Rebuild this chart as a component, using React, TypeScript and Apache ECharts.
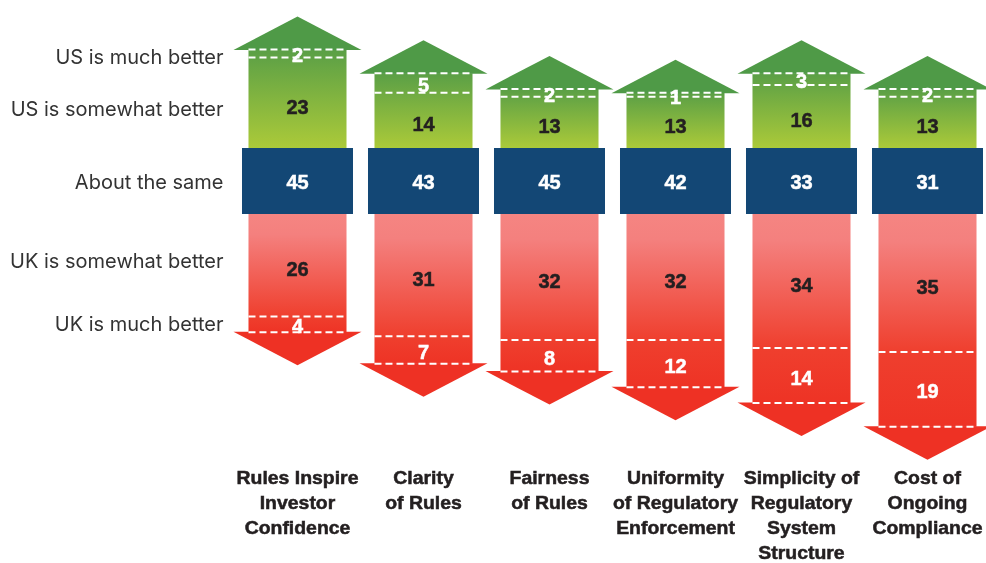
import React, { useEffect, useRef } from "react";
import * as echarts from "echarts";

const categories = [
  "Rules Inspire\nInvestor\nConfidence",
  "Clarity\nof Rules",
  "Fairness\nof Rules",
  "Uniformity\nof Regulatory\nEnforcement",
  "Simplicity of\nRegulatory\nSystem\nStructure",
  "Cost of\nOngoing\nCompliance",
];
const usMuchBetter = [2, 5, 2, 1, 3, 2];
const usSomewhatBetter = [23, 14, 13, 13, 16, 13];
const aboutTheSame = [45, 43, 45, 42, 33, 31];
const ukSomewhatBetter = [26, 31, 32, 32, 34, 35];
const ukMuchBetter = [4, 7, 8, 12, 14, 19];
const rowLabels = [
  "US is much better",
  "US is somewhat better",
  "About the same",
  "UK is somewhat better",
  "UK is much better",
];

const PX = 3.94;
const UP_MAX = 36;
const DOWN_MAX = 63;
const GREEN_TOP = 148;
const RED_TOP = 214;
const BLUE_H = 66;
const HEAD_H = 33;
const NUM_FONT = 'bold 20px "Liberation Sans", Arial, sans-serif';
const ROW_FONT = '20px Inter, "Noto Sans", sans-serif';
const CAT_FONT = 'bold 18px "Liberation Sans", Arial, sans-serif';
const DASH = { stroke: "#ffffff", lineWidth: 2, lineDash: [7, 4] };

function dashLine(x0: number, x1: number, y: number) {
  return { type: "line", shape: { x1: x0, y1: y, x2: x1, y2: y }, style: DASH, z2: 5 };
}
function txt(x: number, y: number, text: string, fill: string, font = NUM_FONT, align = "center") {
  const heavy = font === NUM_FONT;
  return {
    type: "text",
    x,
    y,
    z2: 10,
    style: {
      text,
      fill,
      font,
      align,
      verticalAlign: "middle",
      ...(heavy ? { stroke: fill, lineWidth: 0.5 } : {}),
    },
  };
}

export default function App() {
  const ref = useRef<HTMLDivElement>(null);
  useEffect(() => {
    if (!ref.current) return;
    const chart = echarts.init(ref.current, undefined, { renderer: "svg" });

    const greenItem = (params: any, api: any) => {
      const i = api.value(0);
      const some = api.value(1);
      const much = api.value(2);
      const band = api.size([1, 0])[0];
      const [cx, base] = api.coord([i, 0]);
      const y1 = api.coord([i, some])[1];
      const y2 = api.coord([i, some + much])[1];
      const sw = band * 0.778;
      const hw = band * 1.016;
      const children: any[] = [
        {
          type: "rect",
          shape: { x: cx - sw / 2, y: y2, width: sw, height: base - y2 },
          style: {
            fill: new echarts.graphic.LinearGradient(0, 0, 0, 1, [
              { offset: 0, color: "#5a9f46" },
              { offset: 1, color: "#abca39" },
            ]),
          },
        },
        {
          type: "polygon",
          shape: { points: [[cx - hw / 2, y2 + 0.5], [cx, y2 - HEAD_H], [cx + hw / 2, y2 + 0.5]] },
          style: { fill: "#4f9a47" },
        },
        dashLine(cx - sw / 2, cx + sw / 2, y1),
        dashLine(cx - sw / 2, cx + sw / 2, y2),
        txt(cx, (y1 + base) / 2 + 4, String(some), "#231f20"),
        txt(cx, (y1 + y2) / 2 + 2, String(much), "#ffffff"),
      ];
      if (params.dataIndex === 0) {
        const lx = cx - band / 2 - 11;
        children.push(txt(lx, (y1 + y2) / 2 + 4, rowLabels[0], "#333333", ROW_FONT, "right"));
        children.push(txt(lx, (y1 + base) / 2 + 6, rowLabels[1], "#333333", ROW_FONT, "right"));
      }
      return { type: "group", children };
    };

    const redItem = (params: any, api: any) => {
      const i = api.value(0);
      const some = api.value(1);
      const much = api.value(2);
      const band = api.size([1, 0])[0];
      const [cx, base] = api.coord([i, 0]);
      const y1 = api.coord([i, some])[1];
      const y2 = api.coord([i, some + much])[1];
      const sw = band * 0.778;
      const hw = band * 1.016;
      const f = (y1 - base) / (y2 - base);
      const children: any[] = [
        {
          type: "rect",
          shape: { x: cx - sw / 2, y: base, width: sw, height: y2 - base },
          style: {
            fill: new echarts.graphic.LinearGradient(0, 0, 0, 1, [
              { offset: 0, color: "#f58582" },
              { offset: f * 0.2, color: "#f4807e" },
              { offset: f, color: "#ef3f2e" },
              { offset: 1, color: "#ee3325" },
            ]),
          },
        },
        {
          type: "polygon",
          shape: { points: [[cx - hw / 2, y2 - 0.5], [cx, y2 + HEAD_H], [cx + hw / 2, y2 - 0.5]] },
          style: { fill: "#ee3124" },
        },
        dashLine(cx - sw / 2, cx + sw / 2, y1),
        dashLine(cx - sw / 2, cx + sw / 2, y2),
        txt(cx, (y1 + base) / 2 + 4, String(some), "#231f20"),
        txt(cx, (y1 + y2) / 2 + 2, String(much), "#ffffff"),
      ];
      if (params.dataIndex === 0) {
        const lx = cx - band / 2 - 11;
        children.push(txt(lx, (y1 + base) / 2 - 4, rowLabels[3], "#333333", ROW_FONT, "right"));
        children.push(txt(lx, (y1 + y2) / 2, rowLabels[4], "#333333", ROW_FONT, "right"));
      }
      return { type: "group", children };
    };

    const blueItem = (params: any, api: any) => {
      const i = api.value(0);
      const v = api.value(1);
      const band = api.size([1, 0])[0];
      const [cx, base] = api.coord([i, 0]);
      const bottom = api.coord([i, DOWN_MAX])[1];
      const bw = band * 0.881;
      const children: any[] = [
        { type: "rect", shape: { x: cx - bw / 2, y: base - BLUE_H, width: bw, height: BLUE_H }, style: { fill: "#134775" } },
        txt(cx, base - BLUE_H / 2 + 1, String(v), "#ffffff"),
        {
          type: "text",
          x: cx,
          y: bottom + 3.5,
          scaleX: 1.08,
          z2: 10,
          style: {
            text: categories[i],
            fill: "#231f20",
            stroke: "#231f20",
            lineWidth: 0.5,
            font: CAT_FONT,
            lineHeight: 25,
            align: "center",
            verticalAlign: "top",
          },
        },
      ];
      if (params.dataIndex === 0) {
        children.push(txt(cx - band / 2 - 11, base - BLUE_H / 2 + 1, rowLabels[2], "#333333", ROW_FONT, "right"));
      }
      return { type: "group", children };
    };

    const gridLeft = 234.5;
    const gridWidth = 756;
    const axisHidden = {
      axisLine: { show: false },
      axisTick: { show: false },
      splitLine: { show: false },
      axisLabel: { show: false },
    };

    chart.setOption({
      animation: false,
      grid: [
        { left: gridLeft, width: gridWidth, top: GREEN_TOP - UP_MAX * PX, height: UP_MAX * PX, outerBoundsMode: "none" },
        { left: gridLeft, width: gridWidth, top: RED_TOP, height: DOWN_MAX * PX, outerBoundsMode: "none" },
      ],
      xAxis: [
        { type: "category", data: categories, gridIndex: 0, ...axisHidden },
        { type: "category", data: categories, gridIndex: 1, ...axisHidden },
      ],
      yAxis: [
        { type: "value", gridIndex: 0, min: 0, max: UP_MAX, ...axisHidden },
        { type: "value", gridIndex: 1, min: 0, max: DOWN_MAX, inverse: true, ...axisHidden },
      ],
      series: [
        {
          type: "custom",
          name: "US better",
          xAxisIndex: 0,
          yAxisIndex: 0,
          clip: false,
          renderItem: greenItem,
          data: categories.map((_, i) => [i, usSomewhatBetter[i], usMuchBetter[i]]),
        },
        {
          type: "custom",
          name: "UK better",
          xAxisIndex: 1,
          yAxisIndex: 1,
          clip: false,
          renderItem: redItem,
          data: categories.map((_, i) => [i, ukSomewhatBetter[i], ukMuchBetter[i]]),
        },
        {
          type: "custom",
          name: "About the same",
          xAxisIndex: 1,
          yAxisIndex: 1,
          clip: false,
          z: 3,
          renderItem: blueItem,
          data: categories.map((_, i) => [i, aboutTheSame[i]]),
        },
      ],
    });
    return () => chart.dispose();
  }, []);
  return <div ref={ref} style={{ position: "fixed", left: 0, top: 0, width: 986, height: 563 }} />;
}
